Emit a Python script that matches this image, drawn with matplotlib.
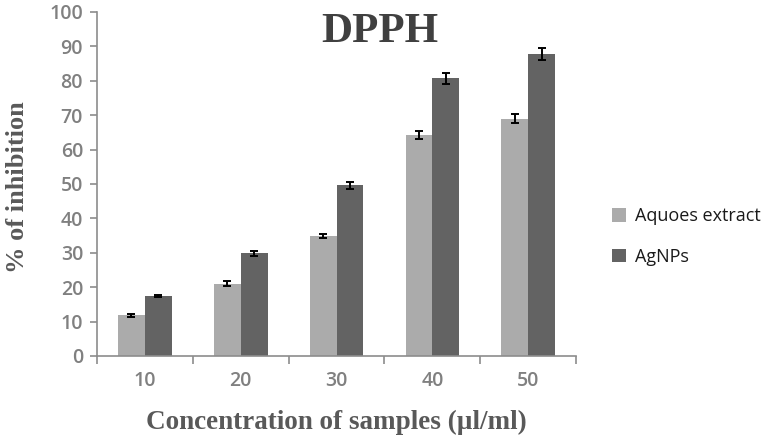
import numpy as np
import matplotlib.pyplot as plt

# data
concentrations = ["10", "20", "30", "40", "50"]
aqueous = [11.8, 21.0, 35.0, 64.3, 69.0]
aqueous_err = [0.4, 0.7, 0.6, 1.2, 1.3]
agnps = [17.5, 29.8, 49.6, 80.8, 87.8]
agnps_err = [0.3, 0.8, 1.0, 1.6, 1.8]

fig = plt.figure(figsize=(7.74, 4.43), dpi=100)
ax = fig.add_axes([0.1253, 0.1964, 0.619, 0.7766])

x = np.arange(len(concentrations))
w = 0.28
err_kw = dict(ecolor="black", capsize=3, elinewidth=1.4, capthick=1.4)
ax.bar(x - w / 2, aqueous, w, yerr=aqueous_err, color="#ababab",
       label="Aquoes extract", error_kw=err_kw)
ax.bar(x + w / 2, agnps, w, yerr=agnps_err, color="#636363",
       label="AgNPs", error_kw=err_kw)

ax.set_xlim(-0.5, len(concentrations) - 0.5)
ax.set_ylim(0, 100)
ax.set_yticks(range(0, 101, 10))
ax.set_xticks(x)
ax.set_xticklabels(concentrations)
ax.set_xticks(np.arange(-0.5, len(concentrations)), minor=True)

for s in ["top", "right"]:
    ax.spines[s].set_visible(False)
for s in ["left", "bottom"]:
    ax.spines[s].set_color("#8c8c8c")
    ax.spines[s].set_linewidth(1.2)

ax.tick_params(axis="y", colors="#8c8c8c", labelcolor="#808080",
               length=5, width=1.2, labelsize=14, pad=5)
ax.tick_params(axis="x", which="major", length=0, labelcolor="#808080",
               labelsize=14, pad=11)
ax.tick_params(axis="x", which="minor", length=6, width=1.2, colors="#8c8c8c")
for lbl in ax.get_xticklabels() + ax.get_yticklabels():
    lbl.set_family("Open Sans")
    lbl.set_fontweight("semibold")

fig.text(0.491, 0.905, "DPPH", ha="center", va="baseline", fontsize=31,
         fontweight="bold", family="Liberation Serif", color="#404040")
fig.text(0.435, 0.047, "Concentration of samples (\u00b5l/ml)", ha="center",
         va="center", fontsize=19.5, fontweight="bold",
         family="Liberation Serif", color="#595959")
fig.text(0.022, 0.578, "% of inhibition", ha="center", va="center",
         rotation=90, fontsize=19, fontweight="bold",
         family="Liberation Serif", color="#595959")

leg = ax.legend(loc="center left", bbox_to_anchor=(1.075, 0.347), frameon=False,
                prop={"family": "Open Sans", "size": 13}, labelspacing=1.25,
                handlelength=0.75, handleheight=0.75, handletextpad=0.5,
                borderaxespad=0, borderpad=0)
for t in leg.get_texts():
    t.set_color("#1a1a1a")

fig.savefig("out.png", dpi=100)
